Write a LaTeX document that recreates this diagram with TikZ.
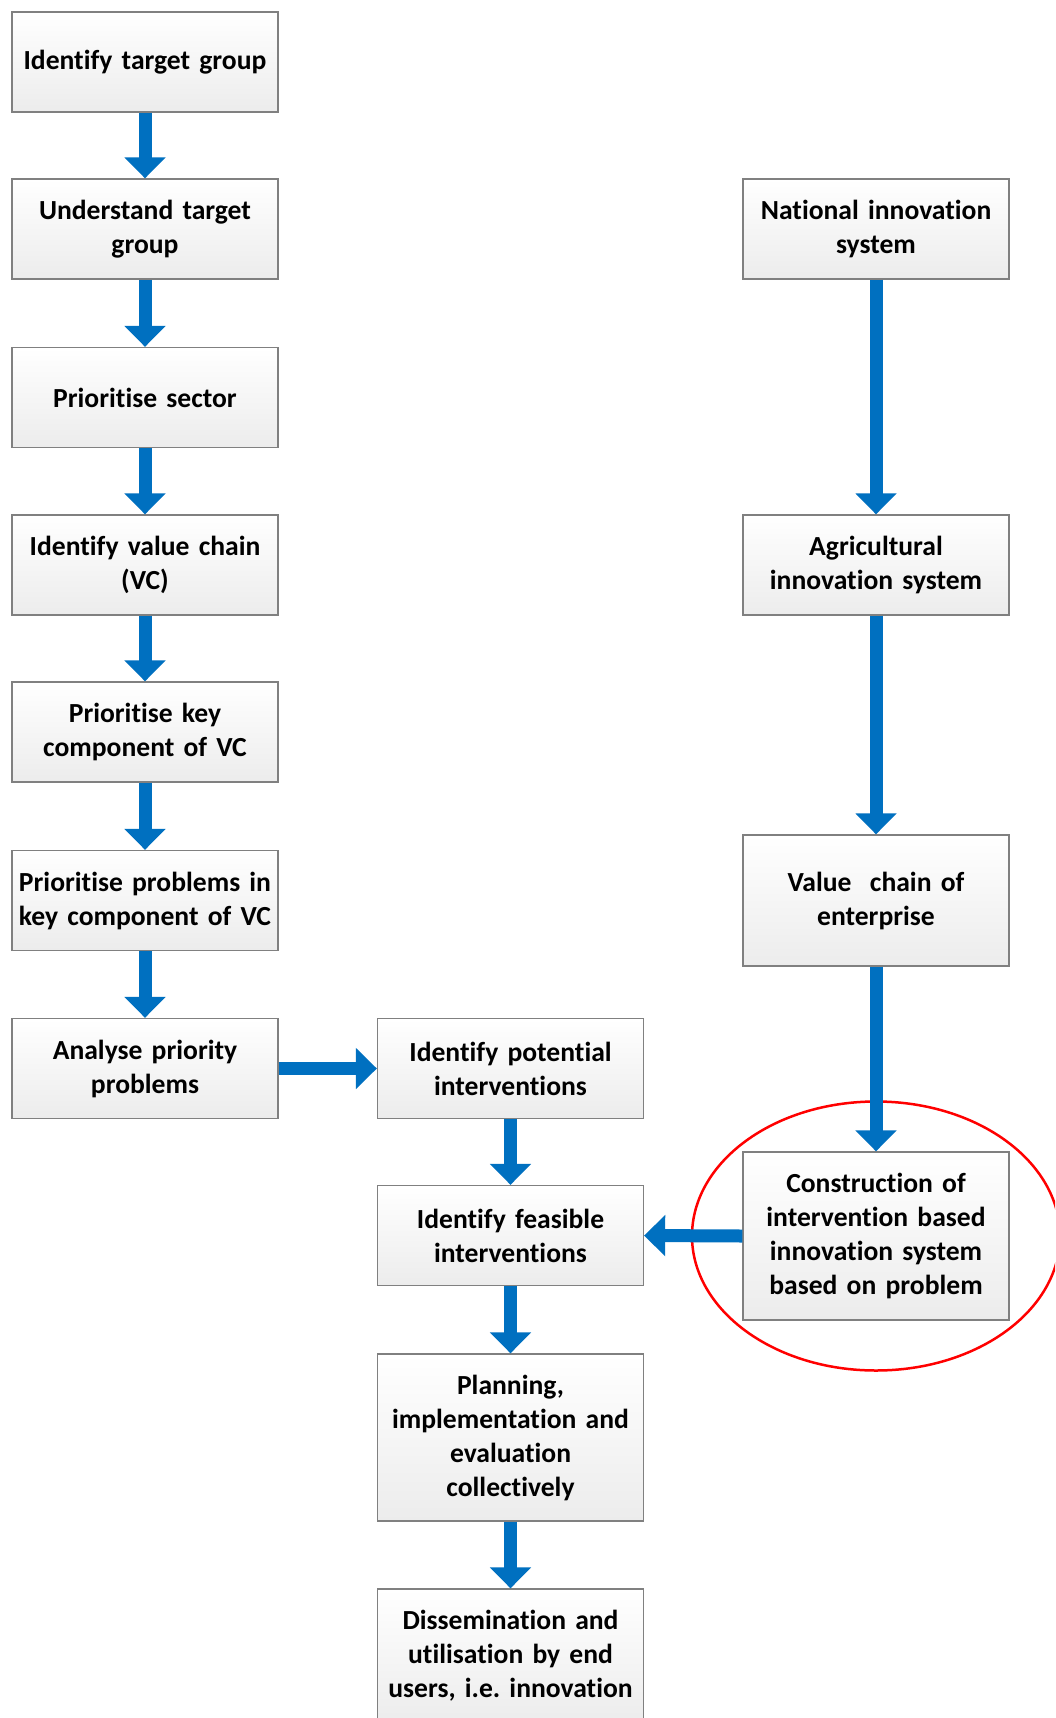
\documentclass[tikz,border=0pt]{standalone}
\usepackage{fontspec}
\setmainfont{Carlito}[Ligatures=NoCommon]
\usetikzlibrary{arrows.meta,shapes.geometric}
\definecolor{flowblue}{RGB}{0,112,192}
\definecolor{boxedge}{RGB}{128,128,128}
\definecolor{boxbottom}{RGB}{236,236,236}
\frenchspacing

\begin{document}
\begin{tikzpicture}[x=1pt,y=-1pt,
  stepbox/.style={draw=boxedge, line width=1.3pt, top color=white, bottom color=boxbottom,
    minimum width=266pt, minimum height=100pt, text width=262pt, align=center,
    inner sep=0pt, font=\fontsize{27.6}{34}\selectfont\bfseries},
  flow/.style={draw=flowblue, line width=13pt, -{Triangle[width=40pt,length=21pt]}}]

\fill[white] (0,0) rectangle (1055,1718);
\useasboundingbox (0,0) rectangle (1055,1718);
\clip (0,0) rectangle (1055,1718);

% left column: from target group to problem analysis
\node[stepbox] (tg) at (145,62) {Identify target group};
\node[stepbox] (ut) at (145,229) {Understand target\\group};
\node[stepbox] (ps) at (145,397.5) {Prioritise sector};
\node[stepbox] (vc) at (145,565) {Identify value chain\\(VC)};
\node[stepbox] (kc) at (145,732) {Prioritise key\\component of VC};
\node[stepbox] (pp) at (145,900.5) {Prioritise problems in\\key component of VC};
\node[stepbox] (ap) at (145,1068.5) {Analyse priority\\problems};

% middle column: interventions down to innovation
\node[stepbox] (pi) at (510.5,1068.5) {Identify potential\\interventions};
\node[stepbox] (fi) at (510.5,1235.5) {Identify feasible\\interventions};
\node[stepbox, minimum height=167pt] (pl) at (510.5,1437.5) {Planning,\\implementation and\\evaluation\\collectively};
\node[stepbox, minimum height=134pt] (de) at (510.5,1656) {Dissemination and\\utilisation by end\\users, i.e. innovation};

% right column: innovation systems
\node[stepbox] (ni) at (876,229) {National innovation\\system};
\node[stepbox] (ai) at (876,565) {Agricultural\\innovation system};
\node[stepbox, minimum height=131pt] (ve) at (876,900.5) {Value\ \ chain of\\enterprise};
\node[stepbox, minimum height=168pt] (ci) at (876,1236) {Construction of\\intervention based\\innovation system\\based on problem};

% highlight around the constructed system
\node[draw=red, line width=2.5pt, ellipse, minimum width=368pt, minimum height=269pt,
  inner sep=0pt] (focus) at (ci.center) {};

% connectors
\draw[flow] (tg.south) -- (ut.north);
\draw[flow] (ut.south) -- (ps.north);
\draw[flow] (ps.south) -- (vc.north);
\draw[flow] (vc.south) -- (kc.north);
\draw[flow] (kc.south) -- (pp.north);
\draw[flow] (pp.south) -- (ap.north);
\draw[flow] (ap.east) -- (pi.west);
\draw[flow] (pi.south) -- (fi.north);
\draw[flow] (fi.south) -- (pl.north);
\draw[flow] (pl.south) -- (de.north);
\draw[flow] (ni.south) -- (ai.north);
\draw[flow] (ai.south) -- (ve.north);
\draw[flow] (ve.south) -- (ci.north);
\draw[flow] (ci.west) -- (fi.east);
\end{tikzpicture}
\end{document}
